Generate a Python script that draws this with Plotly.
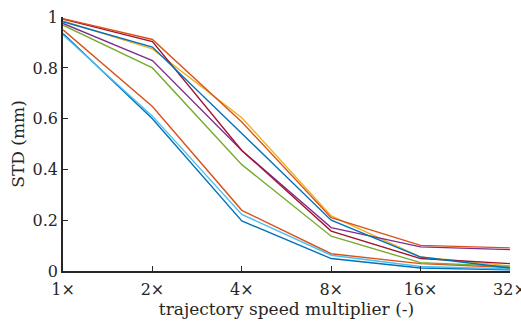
import plotly.graph_objects as go

multipliers = [1, 2, 4, 8, 16, 32]
tick_labels = ["1×", "2×", "4×", "8×", "16×", "32×"]

series_blue_a = [0.935, 0.600, 0.197, 0.049, 0.012, 0.005]
series_orange_a = [0.950, 0.648, 0.239, 0.068, 0.029, 0.014]
series_yellow = [0.985, 0.875, 0.604, 0.217, 0.055, 0.020]
series_purple = [0.975, 0.829, 0.475, 0.171, 0.095, 0.084]
series_green = [0.968, 0.800, 0.419, 0.137, 0.033, 0.018]
series_lightblue = [0.930, 0.610, 0.223, 0.062, 0.018, 0.008]
series_darkred = [0.992, 0.904, 0.475, 0.157, 0.049, 0.029]
series_blue_b = [0.982, 0.882, 0.542, 0.200, 0.055, 0.012]
series_orange_b = [0.994, 0.912, 0.587, 0.210, 0.101, 0.091]

series = [
    (series_blue_a, "#0072BD"),
    (series_orange_a, "#D95319"),
    (series_yellow, "#EDB120"),
    (series_purple, "#7E2F8E"),
    (series_green, "#77AC30"),
    (series_lightblue, "#4DBEEE"),
    (series_darkred, "#A2142F"),
    (series_blue_b, "#0072BD"),
    (series_orange_b, "#D95319"),
]

fig = go.Figure()
for vals, col in series:
    fig.add_trace(go.Scatter(x=multipliers, y=vals, mode="lines",
                             line=dict(color=col, width=1.4), showlegend=False))

font = "DejaVu Serif"
fig.update_layout(
    width=521, height=322,
    margin=dict(l=63, r=11, t=17, b=51),
    paper_bgcolor="white", plot_bgcolor="white",
    font=dict(family=font, size=16, color="#262626"),
    xaxis=dict(type="log", range=[-0.0002, 1.5054], tickvals=multipliers, ticktext=tick_labels,
               ticks="inside", ticklen=5, tickcolor="#262626", tickwidth=1,
               showline=True, linecolor="#262626", linewidth=1.5,
               showgrid=False, zeroline=False, ticklabeloverflow="allow",
               ticklabelstandoff=3, automargin=False,
               title=dict(text="trajectory speed multiplier (-)", standoff=4,
                          font=dict(family=font, size=17)),
               tickfont=dict(family=font, size=16)),
    yaxis=dict(range=[0, 1.0005], tickvals=[0, 0.2, 0.4, 0.6, 0.8, 1],
               ticktext=["0", "0.2", "0.4", "0.6", "0.8", "1"],
               ticks="inside", ticklen=5, tickcolor="#262626", tickwidth=1,
               showline=True, linecolor="#262626", linewidth=1.5,
               showgrid=False, zeroline=False, automargin=False,
               title=dict(text="STD (mm)", standoff=4, font=dict(family=font, size=17)),
               tickfont=dict(family=font, size=16)),
)
fig.write_html("out.html")
